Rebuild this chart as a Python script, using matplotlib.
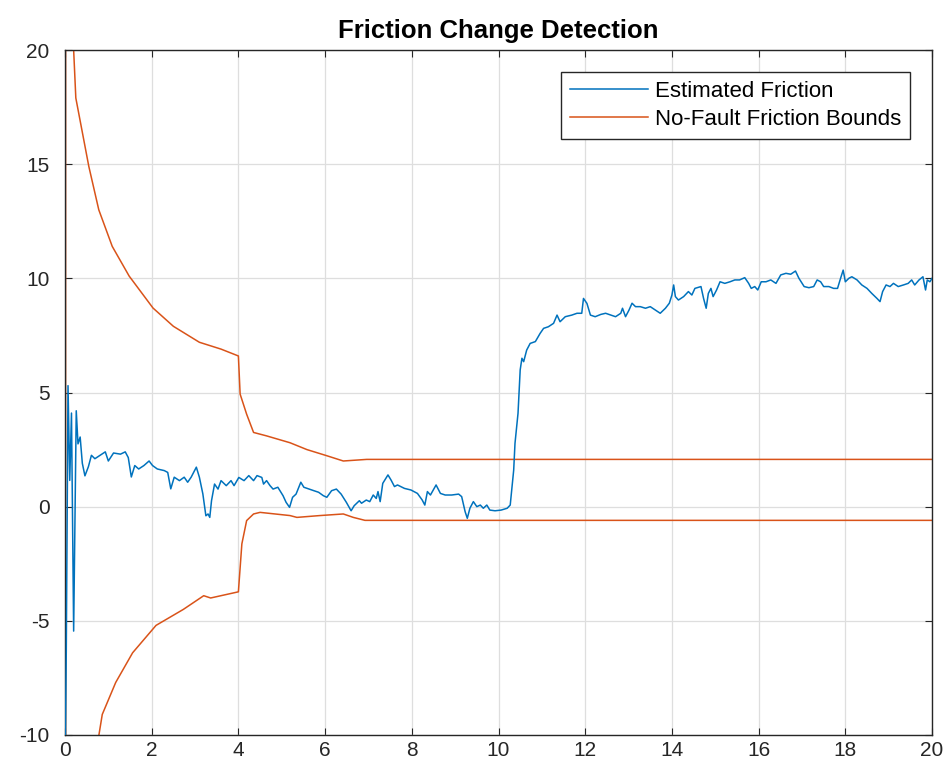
import matplotlib
matplotlib.use("Agg")
import matplotlib.pyplot as plt

plt.rcParams['font.family'] = ['Liberation Sans', 'DejaVu Sans']
plt.rcParams['axes.unicode_minus'] = False

# Estimated friction (blue)
est_t = [0.0, 0.03, 0.07, 0.11, 0.15, 0.2, 0.26, 0.30, 0.35, 0.40, 0.46, 0.54, 0.61, 0.69, 0.81, 0.93,
         1.0, 1.12, 1.28, 1.39, 1.46, 1.53, 1.61, 1.70, 1.82, 1.94, 2.02, 2.13, 2.29, 2.37, 2.44,
         2.52, 2.64, 2.75, 2.83, 2.91, 3.03, 3.1, 3.18, 3.25, 3.30, 3.34, 3.38, 3.45, 3.53, 3.6,
         3.72, 3.83, 3.9, 4.01, 4.13, 4.24, 4.35, 4.43, 4.54, 4.58, 4.65, 4.73, 4.8, 4.91, 5.03,
         5.1, 5.18, 5.25, 5.33, 5.44, 5.51, 5.63, 5.74, 5.85, 5.96, 6.04, 6.15, 6.26, 6.37, 6.49,
         6.6, 6.67, 6.79, 6.84, 6.95, 7.03, 7.11, 7.18, 7.22, 7.27, 7.33, 7.45, 7.52, 7.6, 7.67,
         7.83, 7.98, 8.13, 8.24, 8.3, 8.36, 8.43, 8.56, 8.66, 8.77, 8.92, 9.08, 9.15, 9.23, 9.28,
         9.34, 9.42, 9.5, 9.58, 9.65, 9.73, 9.8, 9.92, 10.06, 10.2, 10.27, 10.35, 10.38, 10.45,
         10.5, 10.54, 10.58, 10.65, 10.73, 10.85, 10.96, 11.04, 11.15, 11.27, 11.35, 11.42, 11.54,
         11.69, 11.81, 11.92, 11.96, 12.04, 12.12, 12.23, 12.36, 12.47, 12.59, 12.7, 12.82, 12.86,
         12.93, 13.01, 13.08, 13.16, 13.27, 13.39, 13.5, 13.62, 13.73, 13.85, 13.94, 14.0, 14.04,
         14.08, 14.15, 14.27, 14.38, 14.46, 14.53, 14.67, 14.73, 14.79, 14.84, 14.9, 14.95, 15.03,
         15.11, 15.22, 15.34, 15.45, 15.56, 15.68, 15.77, 15.83, 15.91, 15.98, 16.06, 16.17, 16.28,
         16.4, 16.51, 16.63, 16.74, 16.85, 16.93, 17.05, 17.16, 17.27, 17.35, 17.43, 17.5, 17.62,
         17.73, 17.82, 17.89, 17.95, 18.0, 18.08, 18.15, 18.27, 18.38, 18.5, 18.61, 18.73, 18.8,
         18.86, 18.94, 19.03, 19.11, 19.22, 19.34, 19.45, 19.53, 19.6, 19.7, 19.79, 19.85, 19.89,
         19.95, 20.0]
est_v = [-12.0, -6.3, 5.3, 1.15, 4.1, -5.45, 4.2, 2.75, 3.05, 1.9, 1.35, 1.75, 2.25, 2.1, 2.25, 2.4,
         2.0, 2.35, 2.3, 2.4, 2.15, 1.3, 1.8, 1.65, 1.8, 2.0, 1.8, 1.65, 1.58, 1.5, 0.78,
         1.29, 1.14, 1.29, 1.07, 1.29, 1.73, 1.29, 0.56, -0.4, -0.32, -0.47, 0.26, 0.99, 0.77, 1.14,
         0.92, 1.14, 0.92, 1.28, 1.14, 1.36, 1.14, 1.36, 1.28, 0.99, 1.14, 0.92, 0.77, 0.85, 0.48,
         0.19, -0.03, 0.41, 0.55, 1.07, 0.85, 0.77, 0.7, 0.63, 0.48, 0.41, 0.7, 0.77, 0.55, 0.19,
         -0.18, 0.04, 0.26, 0.15, 0.29, 0.22, 0.51, 0.36, 0.66, 0.22, 1.02, 1.39, 1.17, 0.88, 0.95,
         0.8, 0.73, 0.58, 0.29, 0.07, 0.66, 0.51, 0.95, 0.58, 0.51, 0.51, 0.55, 0.44, -0.22, -0.51,
         -0.07, 0.22, 0.0, 0.07, -0.07, 0.07, -0.15, -0.18, -0.15, -0.07, 0.07, 1.6, 2.77, 4.09,
         5.99, 6.5, 6.35, 6.86, 7.15, 7.23, 7.59, 7.81, 7.88, 8.03, 8.39, 8.1, 8.32,
         8.39, 8.47, 8.47, 9.12, 8.9, 8.39, 8.32, 8.42, 8.47, 8.39, 8.32, 8.47, 8.69,
         8.32, 8.61, 8.91, 8.76, 8.76, 8.69, 8.76, 8.61, 8.47, 8.69, 8.91, 9.27, 9.71,
         9.2, 9.05, 9.2, 9.42, 9.27, 9.56, 9.64, 9.12, 8.69, 9.34, 9.56, 9.2, 9.49,
         9.85, 9.78, 9.85, 9.93, 9.93, 10.03, 9.78, 9.56, 9.64, 9.49, 9.85, 9.85, 9.93,
         9.78, 10.15, 10.22, 10.18, 10.32, 10.0, 9.64, 9.59, 9.64, 9.93, 9.85, 9.64, 9.64,
         9.56, 9.56, 10.0, 10.36, 9.85, 10.0, 10.07, 9.93, 9.71, 9.56, 9.34, 9.12, 8.98,
         9.42, 9.71, 9.64, 9.78, 9.64, 9.71, 9.78, 9.93, 9.71, 9.93, 10.07, 9.49, 9.93,
         9.85, 10.0]

# Upper no-fault bound
up_t = [0.0, 0.02, 0.2, 0.25, 0.39, 0.55, 0.78, 1.09, 1.48, 2.03, 2.5, 3.1, 3.6, 4.0, 4.04, 4.19,
        4.35, 4.65, 5.19, 5.58, 6.04, 6.42, 6.96, 20.0]
up_v = [-60.0, 60.0, 20.0, 17.9, 16.5, 14.9, 13.0, 11.4, 10.1, 8.7, 7.9, 7.2, 6.9, 6.6, 4.93, 4.05,
        3.25, 3.1, 2.8, 2.5, 2.23, 2.0, 2.07, 2.07]

# Lower no-fault bound
lo_t = [0.0, 0.02, 0.74, 0.86, 1.17, 1.56, 2.1, 2.73, 3.2, 3.36, 4.0, 4.08, 4.19, 4.35, 4.5, 5.19,
        5.35, 5.88, 6.42, 6.65, 6.92, 20.0]
lo_v = [60.0, -60.0, -10.5, -9.1, -7.7, -6.4, -5.2, -4.5, -3.9, -4.0, -3.73, -1.63, -0.61, -0.32,
        -0.25, -0.39, -0.47, -0.39, -0.32, -0.47, -0.6, -0.6]

blue = '#0072BD'
orange = '#D95319'

fig = plt.figure(figsize=(9.5, 7.78), dpi=100)
ax = fig.add_axes([0.0684, 0.0553, 0.9127, 0.8804])

ax.plot(est_t, est_v, color=blue, lw=1.1, label='Estimated Friction', zorder=3)
ax.plot(up_t, up_v, color=orange, lw=1.1, label='No-Fault Friction Bounds', zorder=2)
ax.plot(lo_t, lo_v, color=orange, lw=1.1, zorder=2)

ax.set_xlim(0, 20)
ax.set_ylim(-10, 20)
ax.set_xticks(range(0, 21, 2))
ax.set_yticks(range(-10, 21, 5))
ax.grid(True, color='#dedede', lw=0.9)
ax.set_axisbelow(True)
ax.tick_params(direction='in', length=5, width=0.8, top=True, right=True,
               labelsize=15, colors='#262626')
ax.tick_params(axis='y', pad=11)
ax.tick_params(axis='x', pad=4)
for s in ax.spines.values():
    s.set_color('#262626')
    s.set_linewidth(1.0)

ax.set_title('Friction Change Detection', fontsize=18.5, fontweight='bold', pad=9, color='#000000')

leg = ax.legend(loc='upper right', fontsize=16, handlelength=3.5, fancybox=False,
                framealpha=1, edgecolor='#262626', borderaxespad=1.0, handletextpad=0.3,
                borderpad=0.4, labelspacing=0.3)
leg.get_frame().set_linewidth(1.0)

fig.savefig('out.png', dpi=100)
